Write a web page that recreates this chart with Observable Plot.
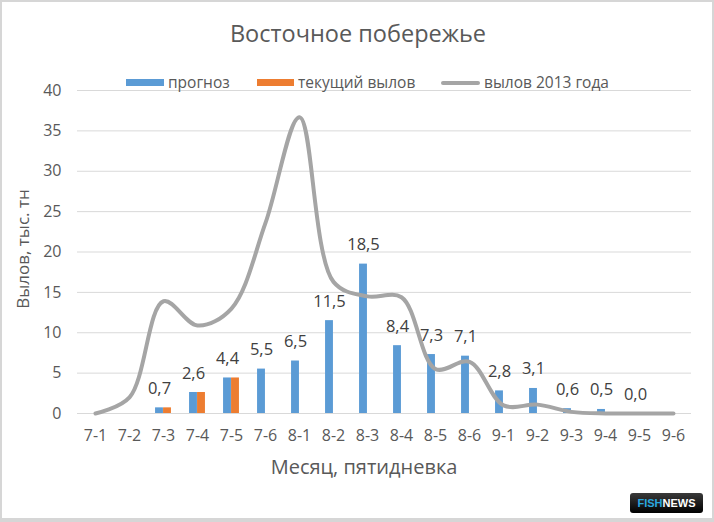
<!DOCTYPE html>
<html>
<head>
<meta charset="utf-8">
<script src="https://cdn.jsdelivr.net/npm/d3@7"></script>
<script src="https://cdn.jsdelivr.net/npm/@observablehq/plot@0.6"></script>
<style>
  html, body { margin: 0; padding: 0; background: #fff; }
  #wrap { position: relative; width: 714px; height: 522px; overflow: hidden; font-family: "Open Sans", sans-serif; color: #595959; }
  #chart { position: absolute; left: 0; top: 0; }
  .t { position: absolute; white-space: nowrap; line-height: 1; }
  #frame { position: absolute; left: 0; top: 0; width: 714px; height: 522px; box-sizing: border-box; border: 2px solid #d6d6d6; border-bottom-width: 4px; pointer-events: none; }
  .sw { position: absolute; }
  #logo { position: absolute; left: 630px; top: 493px; width: 73px; height: 20px; border-radius: 3px; background: linear-gradient(#3a3a3a, #000); font-family: "Liberation Sans", Arial, sans-serif; font-weight: bold; font-size: 11px; line-height: 20px; text-align: center; color: #fff; }
  #logo span { color: #2aa7df; }
</style>
</head>
<body>
<div id="wrap">
  <div id="chart"></div>
  <div class="t" id="title" style="left:358px; top:22px; transform:translateX(-50%); font-size:23.5px;">Восточное побережье</div>
  <div class="sw" style="left:126px; top:79px; width:38px; height:7px; background:#5B9BD5;"></div>
  <div class="t" style="left:168px; top:75px; font-size:15.5px;">прогноз</div>
  <div class="sw" style="left:257px; top:79px; width:37px; height:7px; background:#ED7D31;"></div>
  <div class="t" style="left:298px; top:75px; font-size:15.5px;">текущий вылов</div>
  <div class="sw" style="left:441px; top:81px; width:39px; height:4px; border-radius:2px; background:#A5A5A5;"></div>
  <div class="t" style="left:484px; top:75px; font-size:15.5px;">вылов 2013 года</div>
  <div class="t" style="left:22px; top:249px; transform:translate(-50%,-50%) rotate(-90deg); font-size:17px;">Вылов, тыс. тн</div>
  <div class="t" style="left:364px; top:457px; transform:translateX(-50%); font-size:20px;">Месяц, пятидневка</div>
  <div id="logo"><span>FISH</span>NEWS</div>
  <div id="frame"></div>
</div>
<script>
const categories = ["7-1","7-2","7-3","7-4","7-5","7-6","8-1","8-2","8-3","8-4","8-5","8-6","9-1","9-2","9-3","9-4","9-5","9-6"];
const forecast   = [null, null, 0.7, 2.6, 4.4, 5.5, 6.5, 11.5, 18.5, 8.4, 7.3, 7.1, 2.8, 3.1, 0.6, 0.5, 0.0, null];
const current    = [null, null, 0.7, 2.6, 4.4, null, null, null, null, null, null, null, null, null, null, null, null, null];
const catch2013  = [0, 2.0, 13.9, 10.9, 13.0, 23.6, 36.7, 16.3, 14.5, 14.4, 5.5, 6.4, 1.0, 1.1, 0.2, 0, 0, 0];
const yTicks     = [0, 5, 10, 15, 20, 25, 30, 35, 40];

const fc = categories.map((c, i) => ({cat: c, v: forecast[i]})).filter(d => d.v != null);
const cu = categories.map((c, i) => ({cat: c, v: current[i]})).filter(d => d.v != null);
const ln = categories.map((c, i) => ({cat: c, v: catch2013[i]}));

const W = 714, mL = 77, mR = 23;
const bw = (W - mL - mR) / categories.length;
const barW = 8;
const fmt = v => v.toFixed(1).replace(".", ",");

const chart = Plot.plot({
  width: W,
  height: 522,
  marginLeft: mL,
  marginRight: mR,
  marginTop: 90,
  marginBottom: 109,
  style: {fontFamily: "Open Sans, sans-serif", color: "#595959", background: "transparent"},
  x: {type: "band", domain: categories, padding: 0, label: null},
  y: {domain: [0, 40], label: null},
  marks: [
    Plot.gridY(yTicks, {stroke: "#d9d9d9", strokeOpacity: 1}),
    Plot.ruleY([0], {stroke: "#d9d9d9"}),
    Plot.barY(fc, {x: "cat", y: "v", fill: "#5B9BD5", insetLeft: bw / 2 - barW, insetRight: bw / 2}),
    Plot.barY(cu, {x: "cat", y: "v", fill: "#ED7D31", insetLeft: bw / 2, insetRight: bw / 2 - barW}),
    Plot.line(ln, {x: "cat", y: "v", stroke: "#A5A5A5", strokeWidth: 4, curve: "catmull-rom", strokeLinecap: "round"}),
    Plot.text(fc, {x: "cat", y: "v", text: d => fmt(d.v), dx: -barW / 2, dy: -14, lineAnchor: "bottom", fontSize: 16.5, fill: "#404040"}),
    Plot.axisY(yTicks, {tickSize: 0, tickPadding: 16, fontSize: 16, fill: "#595959", label: null}),
    Plot.axisX({tickSize: 0, tickPadding: 16, fontSize: 16, fill: "#595959", label: null})
  ]
});
document.getElementById("chart").appendChild(chart);
</script>
</body>
</html>
